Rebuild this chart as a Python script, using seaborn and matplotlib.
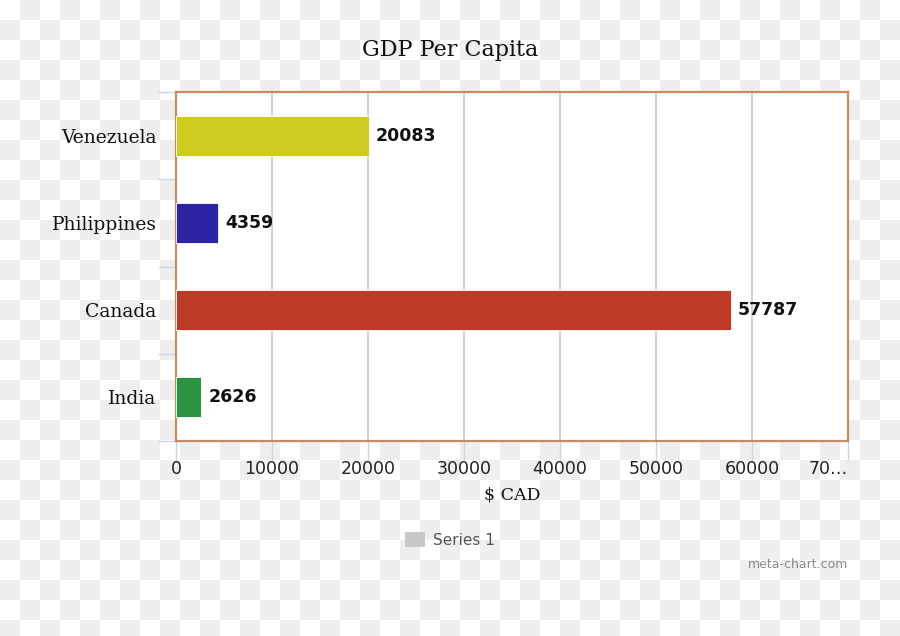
import numpy as np
import pandas as pd
import matplotlib
matplotlib.use("Agg")
import matplotlib.pyplot as plt
from matplotlib.patches import Patch
import seaborn as sns

# data
countries = ["Venezuela", "Philippines", "Canada", "India"]
gdp_per_capita = [20083, 4359, 57787, 2626]
bar_colors = ["#cfca1f", "#2d24a3", "#bd3a26", "#2a9441"]
x_ticks = [0, 10000, 20000, 30000, 40000, 50000, 60000, 70000]
x_tick_labels = ["0", "10000", "20000", "30000", "40000", "50000", "60000", "70…"]

df = pd.DataFrame({"country": countries, "gdp": gdp_per_capita})

sns.set_style("white")
plt.rcParams["font.family"] = ["DejaVu Sans"]

fig = plt.figure(figsize=(9, 6.36), dpi=100)

# checkerboard backdrop (transparent-looking background of the source image)
yy, xx = np.mgrid[0:636, 0:900]
checker = ((xx // 20 + yy // 20) % 2).astype(float)
bg = np.where(checker[..., None] == 1, np.array([0.937, 0.937, 0.937]), np.array([1.0, 1.0, 1.0]))
fig.figimage(bg, xo=0, yo=0, zorder=-10, origin="upper")
fig.patch.set_alpha(0)

ax = fig.add_axes([176 / 900, 1 - 441 / 636, 672 / 900, 349 / 636])
ax.set_facecolor("white")

sns.barplot(data=df, x="gdp", y="country", hue="country", palette=bar_colors,
            orient="h", width=0.46, legend=False, ax=ax, saturation=1,
            edgecolor="white", linewidth=0.6, zorder=3)

ax.set_xlim(0, 70000)
ax.set_ylim(3.5, -0.5)

# value labels
for cont in ax.containers:
    ax.bar_label(cont, fmt="%d", padding=5, fontsize=12.5, fontweight="bold",
                 color="#111111")

# grid
ax.set_xticks(x_ticks)
ax.set_xticklabels(x_tick_labels, fontsize=12.5, color="#222222")
ax.get_xticklabels()[-1].set_ha("right")
ax.xaxis.grid(True, color="#cccccc", linewidth=1.2, zorder=0)
ax.set_axisbelow(True)

# ticks
ax.tick_params(axis="x", bottom=True, length=14, width=1, color="#c6d6e8", pad=0,
               direction="out")
ax.set_yticks(range(len(countries)))
ax.set_yticklabels(countries, family="DejaVu Serif", fontsize=13.5, color="#111111")
ax.tick_params(axis="y", which="major", left=True, length=0, pad=14)
ax.set_yticks([-0.5, 0.5, 1.5, 2.5, 3.5], minor=True)
ax.tick_params(axis="y", which="minor", left=True, length=13, width=1, color="#c6d6e8")

for s in ax.spines.values():
    s.set_visible(True)
    s.set_color("#c98a62")
    s.set_linewidth(1.6)

ax.set_ylabel("")
ax.set_xlabel("$ CAD", family="DejaVu Serif", fontsize=12.5, color="#111111", labelpad=6)

fig.text(0.5, 1 - 50 / 636, "GDP Per Capita", ha="center", va="center",
         family="DejaVu Serif", fontsize=16, color="#111111")

fig.legend(handles=[Patch(facecolor="#c8c8c8", edgecolor="none")], labels=["Series 1"],
           loc="center", bbox_to_anchor=(450 / 900, 1 - 540 / 636), frameon=False,
           fontsize=11, labelcolor="#555555", handlelength=1.3, handleheight=1.1,
           handletextpad=0.5)

fig.text(848 / 900, 1 - 565 / 636, "meta-chart.com", ha="right", va="center",
         fontsize=9, color="#888888")

fig.savefig("out.png", dpi=100)
